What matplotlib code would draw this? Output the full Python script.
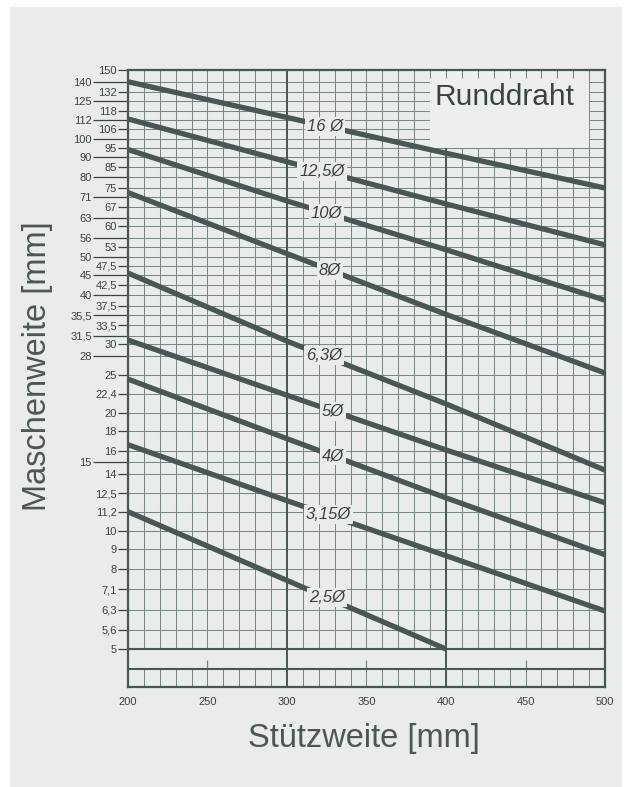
"""Maschenweite over Stützweite for round wire mesh (Runddraht)."""

import numpy as np
import matplotlib.pyplot as plt
from matplotlib.patches import Rectangle

# Stützweite [mm] at which the curves were read
span = [200, 300, 400, 500]
span_25 = [200, 300, 400]   # the 2,5 line stops at 400

# Maschenweite [mm] per wire diameter
d16 = [140, 113.5, 92, 75]
d12_5 = [112.5, 87.5, 68.3, 53.7]
d10 = [94, 69.5, 52.2, 38.8]
d8 = [73, 51, 35.7, 25.3]
d6_3 = [45.5, 30.5, 21.1, 14.3]
d5 = [30.7, 22.2, 16.1, 11.8]
d4 = [24.4, 17.2, 12.15, 8.7]
d3_15 = [16.6, 11.95, 8.65, 6.25]
d2_5 = [11.2, 7.48, 5.0]

wire_names = ['16 Ø', '12,5Ø', '10Ø', '8Ø', '6,3Ø', '5Ø', '4Ø', '3,15Ø', '2,5Ø']
name_x = [324, 322, 325, 327, 323, 329, 329, 326, 325]

inner_ticks = [150, 132, 118, 106, 95, 85, 75, 67, 60, 53, 47.5, 42.5, 37.5,
               33.5, 30, 25, 22.4, 20, 18, 16, 14, 12.5, 11.2, 10, 9, 8, 7.1,
               6.3, 5.6, 5]
outer_ticks = [140, 125, 112, 100, 90, 80, 71, 63, 56, 50, 45, 40, 35.5,
               31.5, 28, 15]
x_ticks = [200, 250, 300, 350, 400, 450, 500]

ink = '#4a5656'
txt = '#3a4343'
grid_c = '#7a8786'
bg = '#e9ecea'


def fmt(v):
    return ('%g' % v).replace('.', ',')


plt.rcParams['font.family'] = ['Liberation Sans', 'DejaVu Sans']

fig = plt.figure(figsize=(6.27, 7.87), dpi=100, facecolor='white')
fig.patches.append(Rectangle((10 / 627, 0), 612 / 627, 780 / 787,
                             transform=fig.transFigure, fc=bg, ec='none',
                             zorder=-5))

ax = fig.add_axes([128 / 627, 100 / 787, 477 / 627, 617 / 787])
ax.set_facecolor(bg)
ax.set_yscale('log')
ax.set_xlim(200, 500)
ax.set_ylim(4, 150)

# grid
gx = list(range(200, 501, 10))
ax.vlines(gx, 5, 150, color=grid_c, lw=0.75, zorder=1)
ax.vlines(gx, 4, 4.45, color=grid_c, lw=0.75, zorder=1)
ax.vlines([300, 400], 4, 150, color=ink, lw=1.4, zorder=1.5)
ax.vlines([250, 350, 450], 4.45, 4.68, color=grid_c, lw=0.9, zorder=1)
ax.hlines(inner_ticks + outer_ticks, 200, 500, color=grid_c, lw=0.75,
          zorder=1)
ax.hlines([5, 4.45], 200, 500, color=ink, lw=1.5, zorder=1.5)

# label box top right
ax.add_patch(Rectangle((390, 95), 100, 55, fc='#edefee', ec='none',
                       zorder=1.8))
ax.vlines(range(390, 491, 10), 143, 150, color=grid_c, lw=0.75, zorder=1.9)
ax.text(437, 128, 'Runddraht', fontsize=21.5, color=txt, ha='center',
        va='center', zorder=2)

series = [(span, d16), (span, d12_5), (span, d10), (span, d8), (span, d6_3),
          (span, d5), (span, d4), (span, d3_15), (span_25, d2_5)]
for (xs, ys), name, lx in zip(series, wire_names, name_x):
    ax.plot(xs, ys, color=ink, lw=3.8, solid_capstyle='butt', zorder=2)
    ly = 10 ** np.interp(lx, xs, np.log10(ys))
    ax.text(lx, ly, name, fontsize=12, style='italic', color=txt,
            ha='center', va='center', zorder=3,
            bbox=dict(boxstyle='square,pad=0.12', fc=bg, ec='none'))

ax.set_yticks(inner_ticks, [fmt(v) for v in inner_ticks])
ax.set_yticks(outer_ticks, [fmt(v) for v in outer_ticks], minor=True)
ax.tick_params(axis='y', which='major', length=7, width=0.9, pad=1,
               labelsize=8, colors=txt)
ax.tick_params(axis='y', which='minor', length=25, width=0.9, pad=1,
               labelsize=8, colors=txt)
ax.set_xticks(x_ticks, [str(v) for v in x_ticks])
ax.tick_params(axis='x', length=0, pad=7, labelsize=8, colors=txt)

for s in ax.spines.values():
    s.set_color(ink)
    s.set_linewidth(1.6)

fig.text(364 / 627, 49 / 787, 'Stützweite [mm]', fontsize=23.5, color='#4d5656',
         ha='center', va='center')
fig.text(38 / 627, 421 / 787, 'Maschenweite [mm]', fontsize=23.5,
         color='#4d5656', ha='center', va='center', rotation=90)

fig.savefig('out.png', dpi=100, facecolor=fig.get_facecolor())
